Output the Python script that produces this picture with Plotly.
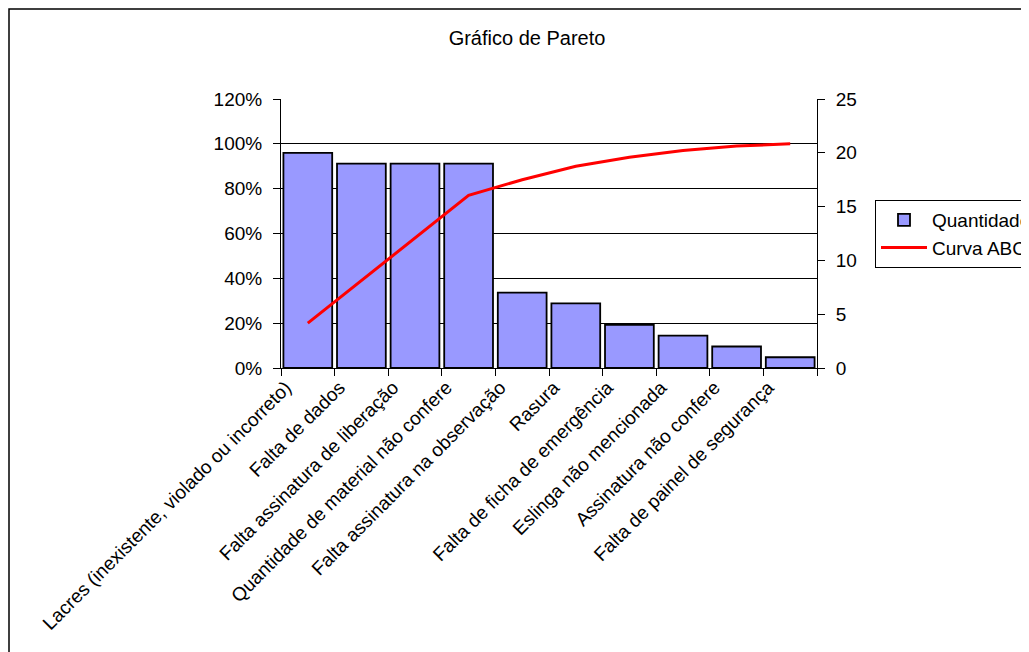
import plotly.graph_objects as go

categories = [
    "Lacres (inexistente, violado ou incorreto)",
    "Falta de dados",
    "Falta assinatura de liberação",
    "Quantidade de material não confere",
    "Falta assinatura na observação",
    "Rasura",
    "Falta de ficha de emergência",
    "Eslinga não mencionada",
    "Assinatura não confere",
    "Falta de painel de segurança",
]
quantidade = [20, 19, 19, 19, 7, 6, 4, 3, 2, 1]
curva_abc = [0.20, 0.39, 0.58, 0.77, 0.84, 0.90, 0.94, 0.97, 0.99, 1.00]

pct_ticks = [0, 0.2, 0.4, 0.6, 0.8, 1.0, 1.2]
pct_labels = ["0%", "20%", "40%", "60%", "80%", "100%", "120%"]
qty_ticks = [0, 5, 10, 15, 20, 25]

FONT = "Liberation Sans, Arial, sans-serif"
FS = 19

fig = go.Figure()
fig.add_trace(go.Bar(
    x=categories, y=quantidade, name="Quantidade", yaxis="y", legendgroup="a",
    marker=dict(color="#9999FF", line=dict(color="#000000", width=1.8)),
))
fig.add_trace(go.Scatter(
    x=categories, y=curva_abc, name="Curva ABC", yaxis="y2", mode="lines", legendgroup="b",
    line=dict(color="#FF0000", width=3),
))

# page body has an 8px margin: place everything 8px up/left
OFF = 8
W, H = 1029 - OFF, 652 - OFF
L, T = 281 - OFF, 99 - OFF
pw, ph = 536, 269
R, B = W - L - pw, H - T - ph

fig.update_layout(
    width=W, height=H,
    margin=dict(l=L, r=R, t=T, b=B, pad=0, autoexpand=False),
    paper_bgcolor="white", plot_bgcolor="white",
    font=dict(family=FONT, size=FS, color="black"),
    title=dict(text="Gráfico de Pareto", x=(527 - OFF) / W, xref="container",
               xanchor="center", y=1 - (38 - OFF) / H, yref="container", yanchor="middle",
               font=dict(family=FONT, size=20, color="black")),
    bargap=0.09,
    showlegend=True,
    legend=dict(x=(875 - OFF) / W, xref="container", y=1 - (200 - OFF) / H, yref="container",
                xanchor="left", yanchor="top",
                bordercolor="black", borderwidth=1, bgcolor="white",
                font=dict(family=FONT, size=FS, color="black"),
                traceorder="normal", itemwidth=46, tracegroupgap=4),
    xaxis=dict(
        showline=True, linecolor="black", linewidth=1,
        ticks="outside", ticklen=7, tickcolor="black", tickson="boundaries",
        tickangle=-45, showgrid=False, ticklabelshift=-22,
        tickfont=dict(family=FONT, size=FS, color="black"),
        automargin=False,
    ),
    yaxis=dict(
        side="right", range=[0, 25], tickvals=qty_ticks,
        showline=True, linecolor="black", linewidth=1,
        ticks="outside", ticklen=7, tickcolor="black", ticklabelstandoff=7,
        showgrid=False, zeroline=False, automargin=False,
        tickfont=dict(family=FONT, size=FS, color="black"),
    ),
    yaxis2=dict(
        overlaying="y", side="left", range=[0, 1.2],
        tickvals=pct_ticks, ticktext=pct_labels,
        showline=True, linecolor="black", linewidth=1,
        ticks="outside", ticklen=7, tickcolor="black", ticklabelstandoff=7,
        showgrid=True, gridcolor="#000000", gridwidth=1, zeroline=False, automargin=False,
        tickfont=dict(family=FONT, size=FS, color="black"),
    ),
    shapes=[dict(
        type="rect", xref="paper", yref="paper",
        x0=(1 - L) / pw, x1=(W + 20 - L) / pw,
        y0=1 - (H + 20 - T) / ph, y1=1 - (1 - T) / ph,
        line=dict(color="black", width=1.5), fillcolor="rgba(0,0,0,0)", layer="below",
    )],
)

fig.write_html("out.html")
